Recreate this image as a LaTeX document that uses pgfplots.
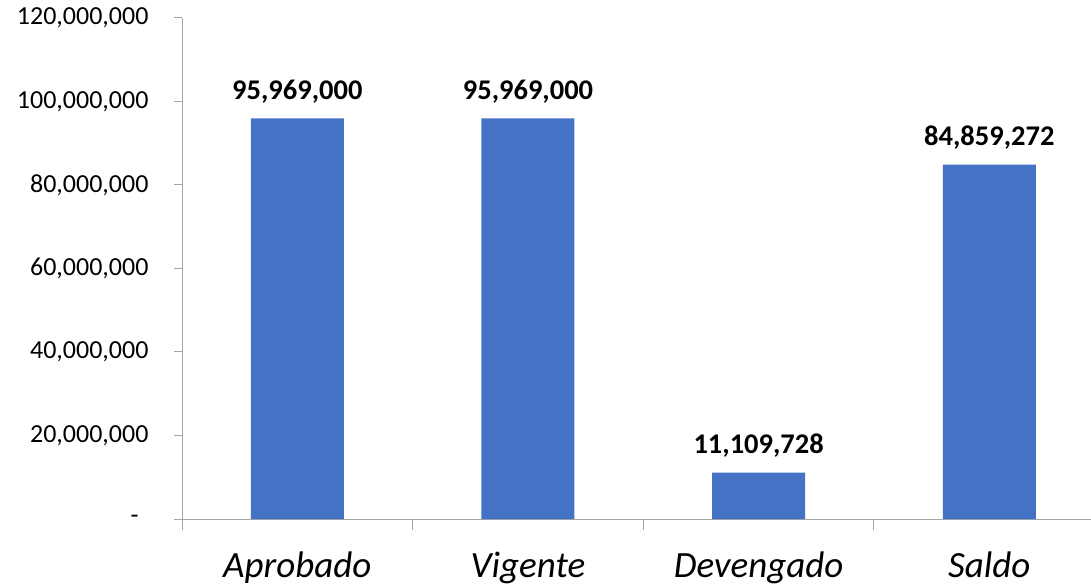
\documentclass[border=0pt]{standalone}
\usepackage{pgfplots}
\usepackage{pgfplotstable}
\pgfplotsset{compat=1.18}
\usepackage{fontspec}
\setmainfont{Carlito}
\definecolor{barblue}{HTML}{4472C4}
\definecolor{axisgray}{HTML}{A6A6A6}
\pgfplotstableread{
x y label
0 95969000 95,969,000
1 95969000 95,969,000
2 11109728 11,109,728
3 84859272 84,859,272
}\data
\begin{document}
\begin{tikzpicture}
\begin{axis}[
  at={(182pt,67pt)}, anchor=south west,
  scale only axis, width=909pt, height=501pt,
  xmin=-0.5, xmax=3.441, ymin=0, ymax=120000000,
  axis x line=bottom, axis y line=left,
  axis line style={-, draw=axisgray, line width=1pt},
  tick align=outside,
  tick style={draw=axisgray, line width=1pt},
  major tick length=8pt,
  ytick={0,20000000,40000000,60000000,80000000,100000000,120000000},
  yticklabels={{-\kern10pt},{20,000,000},{40,000,000},{60,000,000},{80,000,000},{100,000,000},{120,000,000}},
  yticklabel style={font=\fontsize{26}{30}\selectfont, anchor=east, xshift=-22pt},
  xtick={0,1,2,3},
  xticklabels={Aprobado,Vigente,Devengado,Saldo},
  xtick style={draw=none},
  xticklabel style={font=\fontsize{37}{44}\selectfont\itshape, anchor=base, yshift=-50pt},
  extra x ticks={-0.5,0.5,1.5,2.5},
  extra x tick labels={},
  extra x tick style={xtick style={draw=axisgray}, major tick length=11pt},
  scaled y ticks=false,
  ybar, bar width=93pt,
  point meta=explicit symbolic,
  nodes near coords,
  nodes near coords style={font=\fontsize{28.5}{34}\selectfont\bfseries, anchor=base, yshift=19pt, text=black},
  clip=false,
]
\addplot[fill=barblue, draw=none] table[x=x, y=y, meta=label] {\data};
\end{axis}
\pgfresetboundingbox
\path (0,0) rectangle (1091pt,586pt);
\end{tikzpicture}
\end{document}
